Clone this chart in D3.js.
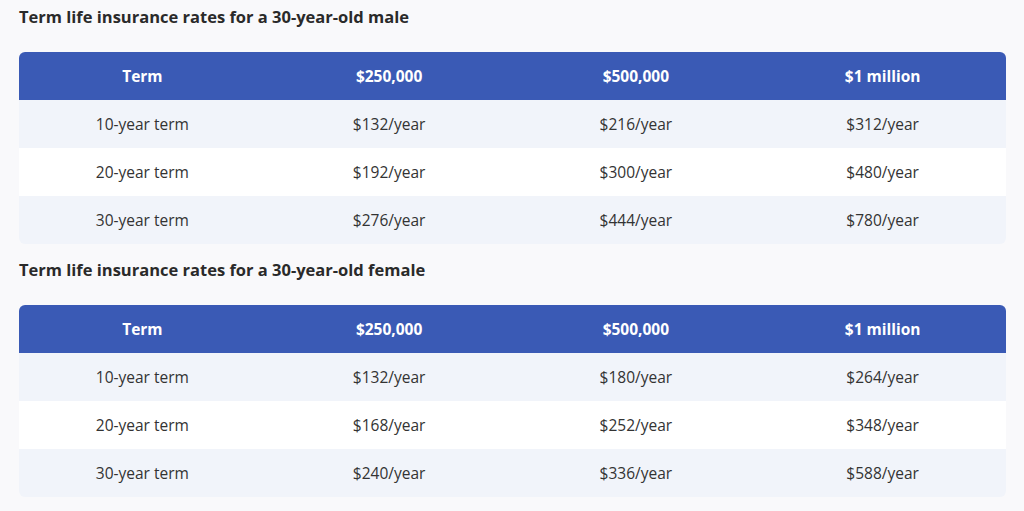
<!DOCTYPE html><html><head><meta charset="utf-8">
<script src="https://cdn.jsdelivr.net/npm/d3@7"></script>
<style>body{margin:0;background:#f9f9fb;}text{font-family:"Open Sans",sans-serif;}</style></head><body>
<svg id="c" width="1024" height="511"></svg>
<script>
const columns = ["Term","$250,000","$500,000","$1 million"];
const terms = ["10-year term","20-year term","30-year term"];
const maleRates = [[132,216,312],[192,300,480],[276,444,780]];
const femaleRates = [[132,180,264],[168,252,348],[240,336,588]];
const titles = ["Term life insurance rates for a 30-year-old male","Term life insurance rates for a 30-year-old female"];
const tables = [maleRates, femaleRates];
const svg = d3.select("#c");
const x = d3.scaleBand().domain(columns).range([19,1006]);
const tops = [52,305];
tables.forEach((rates,ti)=>{
  const top = tops[ti];
  const y = d3.scaleBand().domain(["h",...terms]).range([top, top+192]);
  const g = svg.append("g");
  g.append("text").attr("x",19).attr("y",top-29).attr("font-size",16.5).attr("font-weight",700).attr("fill","#2a2a2a").text(titles[ti]);
  const clipId="cl"+ti;
  g.append("clipPath").attr("id",clipId).append("rect").attr("x",19).attr("y",top).attr("width",987).attr("height",192).attr("rx",6);
  const inner=g.append("g").attr("clip-path",`url(#${clipId})`);
  inner.append("rect").attr("x",19).attr("width",987).attr("y",y("h")).attr("height",y.bandwidth()).attr("fill","#3a5ab5");
  terms.forEach((t,i)=>{
    inner.append("rect").attr("x",19).attr("width",987).attr("y",y(t)).attr("height",y.bandwidth())
     .attr("fill", i%2===0?"#f1f4fa":"#ffffff");
  });
  g.selectAll(".h").data(columns).join("text").attr("x",d=>x(d)+x.bandwidth()/2).attr("y",y("h")+y.bandwidth()/2+6)
   .attr("text-anchor","middle").attr("font-size",15.5).attr("font-weight",700).attr("fill","#fff").text(d=>d);
  terms.forEach((t,i)=>{
    const cells=[t,...rates[i].map(v=>"$"+v+"/year")];
    g.selectAll(".r"+i).data(cells).join("text").attr("x",(d,j)=>x(columns[j])+x.bandwidth()/2).attr("y",y(t)+y.bandwidth()/2+6)
     .attr("text-anchor","middle").attr("font-size",15.5).attr("fill","#333").text(d=>d);
  });
});
</script></body></html>
